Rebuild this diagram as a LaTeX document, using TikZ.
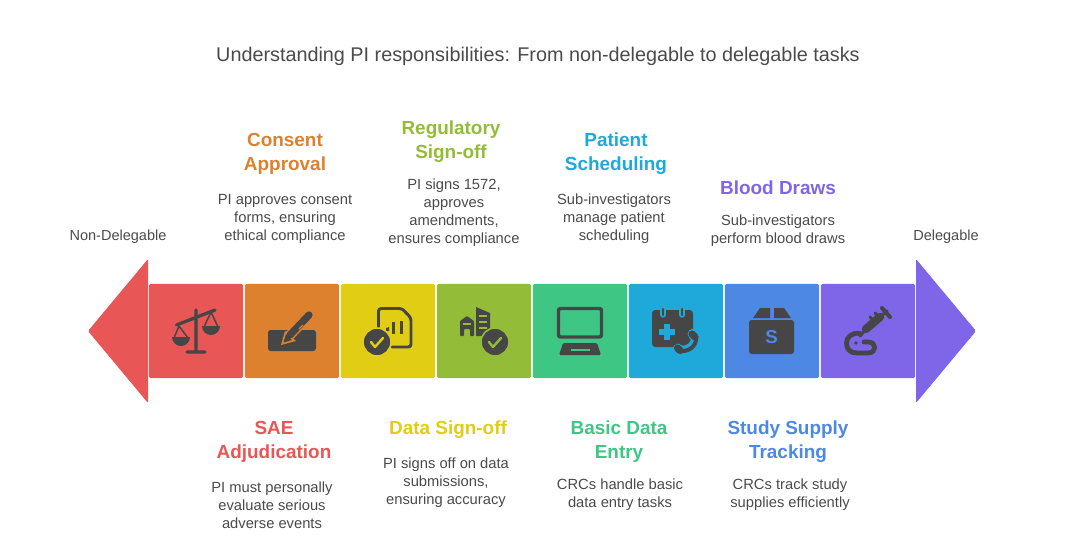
\documentclass[tikz,border=0pt]{standalone}
\usepackage{fontspec}
\setmainfont{Liberation Sans}
\usetikzlibrary{positioning}
\definecolor{redc}{HTML}{E85656}
\definecolor{orangec}{HTML}{DE812E}
\definecolor{yellowc}{HTML}{E0CD14}
\definecolor{greenc}{HTML}{93BC38}
\definecolor{tealc}{HTML}{3EC784}
\definecolor{skyc}{HTML}{1EA9DA}
\definecolor{bluec}{HTML}{4C88E4}
\definecolor{purplec}{HTML}{7F66E8}
\definecolor{icondark}{HTML}{464646}
\definecolor{bodyc}{HTML}{4A4A4A}
\tikzset{
  tile/.style={fill=#1,rounded corners=1.2pt,minimum width=70.6pt,minimum height=70.6pt,inner sep=0pt},
  headtxt/.style={text=#1,align=center,inner sep=0pt,text height=10pt,text depth=3pt,font=\fontsize{14.2pt}{18pt}\selectfont\bfseries},
  bodytxt/.style={text=bodyc,align=center,inner sep=0pt,text height=8pt,text depth=2.5pt,font=\fontsize{11.05pt}{13.5pt}\selectfont},
  icon/.style={fill=icondark,draw=none},
  iconline/.style={draw=icondark,line cap=round,line join=round}
}
\begin{document}
\begin{tikzpicture}[x=0.75pt,y=-0.75pt]
\useasboundingbox (0,0) rectangle (1072,550);
\node[text=bodyc,inner sep=0pt,font=\fontsize{14.85pt}{18pt}\selectfont] (title) at (538,56) {Understanding PI responsibilities: From non-delegable to delegable tasks};
% arrow ends
\fill[redc,rounded corners=1pt] (148,259) -- (88,331) -- (148,403) -- cycle;
\fill[purplec,rounded corners=1pt] (916,259) -- (976,331) -- (916,403) -- cycle;
\node[tile=redc] (t1) at (196,331) {};
\node[tile=orangec] (t2) at (292,331) {};
\node[tile=yellowc] (t3) at (388,331) {};
\node[tile=greenc] (t4) at (484,331) {};
\node[tile=tealc] (t5) at (580,331) {};
\node[tile=skyc] (t6) at (676,331) {};
\node[tile=bluec] (t7) at (772,331) {};
\node[tile=purplec] (t8) at (868,331) {};
% scales
\draw[iconline,line width=2.4pt] (196,310) -- (196,352) (187,352) -- (205,352) (176.5,325) -- (215,310);
\draw[iconline,line width=1.1pt] (179,326) -- (174,338) -- (188,338) -- cycle (211,312) -- (204,327) -- (218,327) -- cycle;
\fill[icondark] (172,337) arc (180:0:9) -- cycle;
\fill[icondark] (202,326) arc (180:0:9) -- cycle;
% pen
\fill[icon,rounded corners=2pt] (268,330) rectangle (316,351);
\draw[orangec,line width=7.6pt,line cap=round] (290,335) -- (310,314);
\fill[orangec] (281,345) -- (285,331) -- (296,341) -- cycle;
\fill[icon] (283.5,342.5) -- (286,334) -- (292,340) -- cycle;
\draw[iconline,line width=5.4pt] (290,335) -- (309,315);
\draw[orangec,line width=.9pt] (299,329) -- (303,325);
% document
\draw[iconline,line width=2.2pt,rounded corners=2pt] (378.5,330) -- (378.5,308.5) -- (402,308.5) -- (411,318) -- (411,347) -- (392,347);
\fill[icon] (386,328) -- (389,327) -- (389,331) -- (386,331) -- cycle;
\fill[icon] (392,322) rectangle (395,334);
\fill[icon] (400,321) rectangle (403,334);
\draw[icon,draw=yellowc,line width=1.2pt] (377,342) circle (14);
\draw[yellowc,line width=1.8pt,line cap=round,line join=round] (371,342) -- (375,347) -- (383,338);
% buildings
\fill[icon,rounded corners=.6pt] (460,336) -- (460,321) -- (467,316) -- (474,321) -- (474,336) -- (470,336) -- (470,329) -- (464,329) -- (464,336) -- cycle;
\fill[icon] (476,336) -- (476,307) -- (490,313) -- (490,330) -- (483,336) -- cycle;
\draw[greenc,line width=.9pt] (463,324) -- (471,324) (479,316) -- (487,316) (479,322) -- (487,322) (479,328) -- (487,328);
\draw[icon,draw=greenc,line width=1.2pt] (495,342) circle (14);
\draw[greenc,line width=1.8pt,line cap=round,line join=round] (489,342) -- (493,347) -- (501,338);
% monitor
\draw[iconline,line width=2.6pt,rounded corners=1.5pt] (558.5,308.5) rectangle (601.5,337);
\fill[icon,rounded corners=1pt] (563,343) -- (597,343) -- (601,355) -- (559,355) -- cycle;
\draw[tealc,line width=.9pt] (571,350) -- (590,350);
% calendar
\fill[icon,rounded corners=2.5pt] (652,310) rectangle (693,347);
\draw[skyc,line width=4pt,line cap=round] (663,309) -- (663,315) (682,309) -- (682,315);
\draw[icondark,line width=1.8pt,line cap=round] (663,309) -- (663,315) (682,309) -- (682,315);
\draw[skyc,line width=3.8pt] (667,324) -- (667,340) (659,332) -- (675,332);
\draw[skyc,line width=8pt,line cap=round] (678,349) -- (680,351) .. controls (690,352) and (697,345) .. (696,337) -- (693,334);
\draw[iconline,line width=3pt] (680,351) .. controls (690,352) and (697,345) .. (696,337);
\draw[iconline,line width=5.4pt] (677.5,348) -- (680,350.5) (692,334) -- (695,337);
% box
\fill[icon] (753,318) -- (760,308) -- (770,308) -- (770,318) -- cycle;
\fill[icon] (774,318) -- (774,308) -- (784,308) -- (791,318) -- cycle;
\fill[icon,rounded corners=2pt] (749,320) rectangle (794,354);
\node[text=bluec,inner sep=0pt,font=\fontsize{14pt}{16pt}\selectfont\bfseries] (boxs) at (771.5,337) {S};
% syringe
\draw[iconline,line width=6.2pt] (866,329) -- (880,317);
\draw[iconline,line width=2.4pt] (860,336) -- (866,329) (880,317) -- (887,311);
\draw[iconline,line width=3pt] (882,308) -- (890,317);
\draw[iconline,line width=2.2pt] (870,317) -- (876,323) (875,313) -- (881,319);
\draw[iconline,line width=3.6pt] (860,333.5) .. controls (851,332) and (846.5,338) .. (846.5,343) .. controls (846.5,349) and (850,353) .. (857,353) -- (868,353) .. controls (877,353) and (877,342) .. (868,342) -- (864,342);
\fill[icondark] (856,343) circle (1.8);
% heads and texts
\node (l0) at (118,237) [bodytxt,font=\fontsize{10.9pt}{13.5pt}\selectfont] {Non-Delegable};
\node (l9) at (946,237) [bodytxt,font=\fontsize{10.9pt}{13.5pt}\selectfont] {Delegable};
\node (h1) at (274,454) [headtxt=redc] {SAE\\Adjudication};
\node (b1) at (272,525) [bodytxt] {PI must personally\\evaluate serious\\adverse events};
\node (h2) at (285,166) [headtxt=orangec] {Consent\\Approval};
\node (b2) at (285,237) [bodytxt] {PI approves consent\\forms, ensuring\\ethical compliance};
\node (h3) at (448,430) [headtxt=yellowc] {Data Sign-off};
\node (b3) at (446,501) [bodytxt] {PI signs off on data\\submissions,\\ensuring accuracy};
\node (h4) at (451,154) [headtxt=greenc] {Regulatory\\Sign-off};
\node (b4) at (454,240) [bodytxt] {PI signs 1572,\\approves\\amendments,\\ensures compliance};
\node (h5) at (619,454) [headtxt=tealc] {Basic Data\\Entry};
\node (b5) at (620,504) [bodytxt] {CRCs handle basic\\data entry tasks};
\node (h6) at (616,166) [headtxt=skyc] {Patient\\Scheduling};
\node (b6) at (614,237) [bodytxt] {Sub-investigators\\manage patient\\scheduling};
\node (h7) at (788,454) [headtxt=bluec] {Study Supply\\Tracking};
\node (b7) at (790,504) [bodytxt] {CRCs track study\\supplies efficiently};
\node (h8) at (778,190) [headtxt=purplec] {Blood Draws};
\node (b8) at (778,240) [bodytxt] {Sub-investigators\\perform blood draws};
\end{tikzpicture}
\end{document}
